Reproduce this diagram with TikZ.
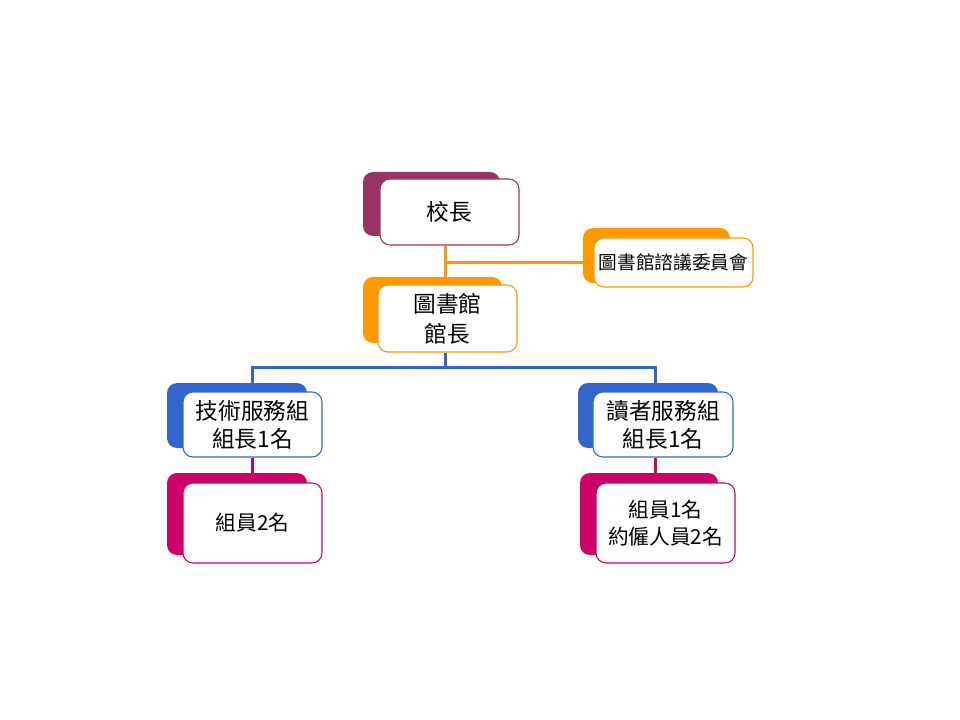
\documentclass[tikz,border=0pt]{standalone}
\usepackage{fontspec}
\usetikzlibrary{backgrounds}
\newfontfamily\cjk{Noto Sans CJK TC}
\definecolor{cpurple}{HTML}{993366}
\definecolor{corange}{HTML}{FF9900}
\definecolor{cblue}{HTML}{3366CC}
\definecolor{cmag}{HTML}{CC0066}
\begin{document}
\begin{tikzpicture}[x=0.75pt,y=-0.75pt,
  front/.style={draw=#1, line width=0.8pt, fill=white, rounded corners=7.5pt,
    inner sep=0pt, align=center, font=\cjk, minimum width=104.25pt},
  back/.style={fill=#1, rounded corners=7.5pt},
  conn/.style={draw=#1, line width=2.25pt}]
\useasboundingbox (0,0) rectangle (960,720);
% back shapes
\fill[back=cpurple] (363,172) rectangle (500,236);
\fill[back=corange] (583,228) rectangle (730,283);
\fill[back=corange] (363,277) rectangle (502,343);
\fill[back=cblue] (167,383) rectangle (307,448);
\fill[back=cblue] (578,383) rectangle (718,448);
\fill[back=cmag] (167,473) rectangle (307,555);
\fill[back=cmag] (580,473) rectangle (718,555);
% front nodes
\node[front=cpurple, minimum height=49.5pt, font=\cjk\fontsize{17}{21}\selectfont] (xz) at (449.5,212) {校長};
\node[front=corange, minimum width=119.25pt, minimum height=36.75pt, font=\cjk\fontsize{14}{17}\selectfont] (adv) at (673.5,262.5) {圖書館諮議委員會};
\node[front=corange, minimum height=50.25pt, font=\cjk\fontsize{17}{22.5}\selectfont] (lib) at (447.5,318.5) {圖書館\\館長};
\node[front=cblue, minimum height=48.75pt, font=\cjk\fontsize{17}{21}\selectfont] (tech) at (252.5,424.5) {技術服務組\\組長1名};
\node[front=cblue, minimum width=105pt, minimum height=48.75pt, font=\cjk\fontsize{17}{21}\selectfont] (reader) at (663,424.5) {讀者服務組\\組長1名};
\node[front=cmag, minimum height=60pt, font=\cjk\fontsize{15.5}{20}\selectfont] (meml) at (252.5,523) {組員2名};
\node[front=cmag, minimum height=60pt, font=\cjk\fontsize{15.5}{20}\selectfont] (memr) at (665.5,523) {組員1名\\約僱人員2名};
% connectors behind the boxes
\coordinate (xzc) at ([xshift=-3.375pt]xz.south);
\coordinate (libc) at ([xshift=-1.875pt]lib.south);
\coordinate (readc) at ([xshift=-6pt]reader.north);
\coordinate (busy) at (0,367);
\begin{scope}[on background layer]
\draw[conn=corange] (xzc) -- (xzc |- lib.north);
\draw[conn=corange] (xzc |- adv.west) -- (adv.west);
\draw[conn=cblue] (libc) -- (libc |- busy) -| (tech.north);
\draw[conn=cblue] (libc |- busy) -| (readc);
\draw[conn=cmag] (tech.south) -- (meml.north);
\draw[conn=cmag] (readc |- reader.south) -- (readc |- memr.north);
\end{scope}
\end{tikzpicture}
\end{document}
